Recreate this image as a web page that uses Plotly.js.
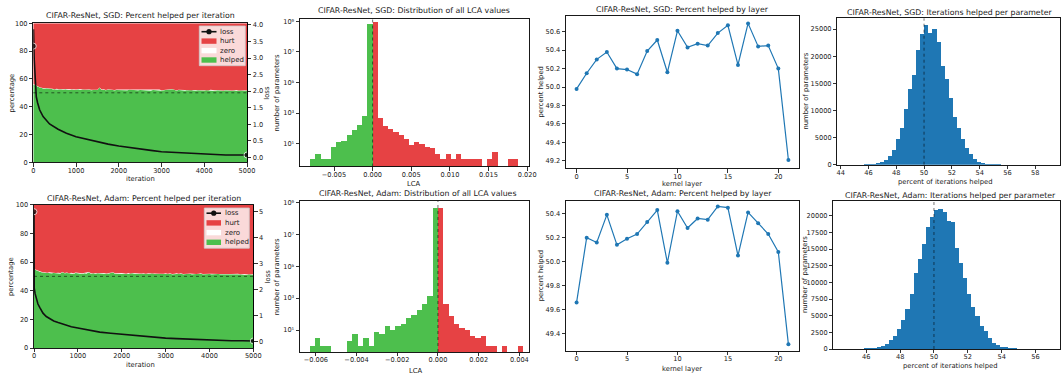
<!DOCTYPE html>
<html>
<head>
<meta charset="utf-8">
<script src="https://cdn.plot.ly/plotly-3.0.1.min.js"></script>
<style>
  html, body { margin: 0; padding: 0; background: #ffffff; }
  #chart { width: 1063px; height: 377px; }
</style>
</head>
<body>
<div id="chart"></div>
<script>
// ---------- data ----------
// percent of parameters helped / zero per iteration (sampled every 50 iterations)
const iterStep = 50;
const sgdHelped = [
  56.0,55.2,54.3,53.8,53.4,53.0,53.2,52.8,52.9,52.6,
  52.4,52.7,52.3,52.5,52.2,52.6,52.3,52.1,52.4,52.2,
  52.0,52.5,52.1,52.3,52.0,52.2,52.4,51.9,52.1,52.3,
  52.0,53.6,52.1,52.2,51.9,52.3,52.0,52.2,51.8,52.1,
  52.0,52.3,51.9,52.1,51.8,52.2,52.0,51.9,52.1,51.8,
  52.0,51.9,52.2,51.8,52.0,51.7,52.1,51.9,51.8,52.0,
  51.7,51.9,52.0,51.8,52.4,52.6,51.9,51.7,52.0,51.8,
  51.9,51.7,52.0,51.8,51.6,51.9,51.7,51.8,51.6,51.9,
  51.7,51.8,51.6,51.9,51.7,51.5,51.8,51.6,51.7,51.5,
  51.8,51.6,51.7,51.5,51.6,51.8,51.5,51.6,51.4,51.6,
  51.5
];
const sgdZero = [
  0.4,0.3,0.3,0.2,0.3,0.2,0.3,0.3,0.2,0.3,
  0.2,0.3,0.2,0.3,0.3,0.2,0.3,0.2,0.2,0.3,
  0.3,0.2,0.3,0.2,0.3,0.2,0.2,0.3,0.2,0.3,
  0.2,0.3,0.2,0.3,0.2,0.2,0.3,0.2,0.3,0.2,
  0.3,0.2,0.2,0.3,0.2,0.3,0.2,0.3,0.2,0.2,
  0.3,0.2,0.3,0.2,0.2,0.3,0.2,0.3,0.2,0.3,
  0.2,0.2,0.3,0.2,0.3,0.2,0.3,0.2,0.2,0.3,
  0.2,0.3,0.2,0.3,0.2,0.2,0.3,0.2,0.3,0.2,
  0.3,0.2,0.2,0.3,0.2,0.3,0.2,0.2,0.3,0.2,
  0.3,0.2,0.3,0.2,0.2,0.3,0.2,0.3,0.2,0.3,
  0.2
];
const adamHelped = [
  54.9,54.2,53.6,53.1,52.7,52.5,52.3,52.6,52.2,52.4,
  52.1,52.3,52.0,52.8,52.1,52.3,52.0,52.2,51.9,52.3,
  52.0,52.1,51.8,52.2,52.0,52.9,51.9,52.1,51.8,52.2,
  52.0,51.9,52.1,51.8,52.0,52.3,52.6,51.9,52.0,51.8,
  52.1,51.9,51.7,52.0,51.8,52.1,51.9,51.7,52.0,51.8,
  51.9,51.7,52.0,51.8,52.2,51.7,51.9,51.6,51.8,51.7,
  51.9,51.6,51.8,51.5,51.7,51.9,51.6,51.8,51.5,51.7,
  51.6,51.8,51.5,51.7,51.4,51.6,51.8,51.5,51.7,51.4,
  51.6,51.5,51.7,51.4,51.6,51.5,51.3,51.6,51.4,51.5,
  51.3,51.6,51.4,51.5,51.3,51.5,51.4,51.2,51.4,51.3,
  51.2
];
const adamZero = [
  0.3,0.3,0.2,0.3,0.2,0.3,0.2,0.2,0.3,0.2,
  0.3,0.2,0.3,0.2,0.2,0.3,0.2,0.3,0.2,0.3,
  0.2,0.2,0.3,0.2,0.3,0.2,0.3,0.2,0.2,0.3,
  0.2,0.3,0.2,0.2,0.3,0.2,0.3,0.2,0.3,0.2,
  0.2,0.3,0.2,0.3,0.2,0.2,0.3,0.2,0.3,0.2,
  0.3,0.2,0.2,0.3,0.2,0.3,0.2,0.3,0.2,0.2,
  0.3,0.2,0.3,0.2,0.2,0.3,0.2,0.3,0.2,0.3,
  0.2,0.2,0.3,0.2,0.3,0.2,0.3,0.2,0.2,0.3,
  0.2,0.3,0.2,0.3,0.2,0.2,0.3,0.2,0.3,0.2,
  0.3,0.2,0.2,0.3,0.2,0.3,0.2,0.3,0.2,0.2,
  0.3
];

// training loss
const sgdLossIter = [0,5,20,40,70,100,150,230,380,580,775,1000,1250,1500,1750,2000,2250,2500,2750,3000,3250,3500,3750,4000,4250,4500,4750,5000];
const sgdLoss     = [3.36,3.87,3.0,2.3,1.83,1.65,1.43,1.23,1.01,0.85,0.73,0.62,0.54,0.46,0.40,0.34,0.29,0.25,0.21,0.17,0.15,0.13,0.11,0.09,0.08,0.07,0.07,0.07];
const adamLossIter = [0,5,25,50,90,130,205,280,360,450,550,650,740,850,1000,1250,1500,1750,2000,2250,2500,2750,3000,3250,3500,3750,4000,4250,4500,4750,5000];
const adamLoss     = [5.0,2.06,1.85,1.68,1.45,1.32,1.10,0.97,0.88,0.80,0.74,0.68,0.63,0.58,0.53,0.44,0.37,0.33,0.29,0.25,0.21,0.17,0.14,0.12,0.10,0.08,0.06,0.05,0.04,0.04,0.03];

// LCA histograms (negative bins = helped, positive bins = hurt)
const lcaSgdMin = -0.00809, lcaSgdBinWidth = 0.000674;
const lcaSgdNegCounts = [1,2,1,1,6,13,15,38,78,166,665,7.0e8];
const lcaSgdPosCounts = [8.6e8,490,150,95,57,34,20,8,12,10,6,5,2,1,2,1,2,1,1,1,1,0,1,3,0,0,1,1];
const lcaAdamMin = -0.0063, lcaAdamBinWidth = 0.0002625;
const lcaAdamNegCounts = [1,3,1,1,0,0,0,2,6,1,3,1,8,6,17,10,18,24,56,84,177,430,1290,4.7e8];
const lcaAdamPosCounts = [4.8e8,450,80,25,14,10,4,3,4,1,1,0,1,0,0,1];

// percent helped per kernel layer
const sgdLayerHelped  = [49.98,50.15,50.30,50.38,50.20,50.19,50.14,50.39,50.51,50.16,50.61,50.43,50.47,50.45,50.585,50.67,50.24,50.69,50.44,50.45,50.20,49.21];
const adamLayerHelped = [49.66,50.20,50.16,50.39,50.14,50.19,50.23,50.33,50.43,49.99,50.42,50.28,50.36,50.35,50.46,50.45,50.05,50.41,50.32,50.23,50.08,49.31];

// histogram of percent of iterations helped, per parameter
const sgdItersMin = 44.49, sgdItersBinWidth = 0.2913;
const sgdItersCounts = [3,5,10,20,40,80,150,250,430,860,1660,2700,4730,6690,10190,13940,16520,21120,24070,25730,
  24200,24930,22530,18170,15780,12340,8720,6820,4730,3010,1970,980,550,300,190,120,80,50,30,20,12,8,5,4,3,2,2,1,1,1];
const adamItersMin = 44.66, adamItersBinWidth = 0.2436;
const adamItersCounts = [10,15,25,40,60,100,150,200,300,450,750,1300,2000,3000,4300,6050,8250,11400,13500,15750,
  18250,19750,20800,21000,20550,19250,19050,15150,12900,10650,8250,6300,4900,3500,2650,1650,900,650,350,250,
  150,100,60,40,25,15,10,6,4,2];

const legendNames = ['loss', 'hurt', 'zero', 'helped'];
const logTickText = ['10¹', '10³', '10⁵', '10⁷', '10⁹'];

// ---------- helpers ----------
const W = 1063, H = 377;
const FONT = 'DejaVu Sans, Verdana, sans-serif';
const GREEN = '#4dbf4d', RED = '#e64244', BLUE = '#1f77b4', TEXT = '#1a1a1a';

const hd = (x0, x1) => [x0 / W, x1 / W];
const vd = (top, bottom) => [1 - bottom / H, 1 - top / H];
const px = x => x / W;
const py = y => 1 - y / H;
const centers = (start, width, n) => Array.from({length: n}, (_, i) => start + (i + 0.5) * width);
const nz = arr => arr.map(v => (v > 0 ? v : null));

const iters = sgdHelped.map((_, i) => i * iterStep);
const sgdHurt = sgdHelped.map((h, i) => 100 - h - sgdZero[i]);
const adamHurt = adamHelped.map((h, i) => 100 - h - adamZero[i]);
const layers = sgdLayerHelped.map((_, i) => i);

function endMarkers(n) { return Array.from({length: n}, (_, i) => (i === 0 || i === n - 1 ? 6 : 0)); }

const baseAxis = {
  showline: true, mirror: true, linecolor: '#000', linewidth: 0.9,
  ticks: 'outside', ticklen: 3.5, tickwidth: 0.8, tickcolor: '#000',
  showgrid: false, zeroline: false, fixedrange: true,
  tickfont: {family: FONT, size: 6.6, color: TEXT}
};
const ax = o => Object.assign({}, baseAxis, o);
const xax = o => Object.assign({}, baseAxis, {ticklabelstandoff: -2}, o);

// ---------- traces ----------
const traces = [];

function stackPanel(xa, ya, ya2, group, helped, zero, hurt, lossIter, loss) {
  traces.push({x: iters, y: helped, stackgroup: group, name: 'helped', mode: 'lines',
    line: {width: 0, color: GREEN}, fillcolor: GREEN, xaxis: xa, yaxis: ya, hoverinfo: 'skip'});
  traces.push({x: iters, y: zero, stackgroup: group, name: 'zero', mode: 'lines',
    line: {width: 0, color: '#ffffff'}, fillcolor: '#ffffff', xaxis: xa, yaxis: ya, hoverinfo: 'skip'});
  traces.push({x: iters, y: hurt, stackgroup: group, name: 'hurt', mode: 'lines',
    line: {width: 0, color: RED}, fillcolor: RED, xaxis: xa, yaxis: ya, hoverinfo: 'skip'});
  traces.push({x: lossIter, y: loss, mode: 'lines+markers', name: 'loss',
    line: {color: '#111', width: 1.6}, marker: {color: '#111', size: endMarkers(loss.length)},
    xaxis: xa, yaxis: ya2, hoverinfo: 'skip'});
}

function lcaPanel(xa, ya, start, width, negCounts, posCounts) {
  const nNeg = negCounts.length;
  traces.push({type: 'bar', x: centers(start, width, nNeg), y: nz(negCounts), width: width,
    marker: {color: GREEN, line: {width: 0}}, xaxis: xa, yaxis: ya, hoverinfo: 'skip'});
  traces.push({type: 'bar', x: centers(start + nNeg * width, width, posCounts.length), y: nz(posCounts), width: width,
    marker: {color: RED, line: {width: 0}}, xaxis: xa, yaxis: ya, hoverinfo: 'skip'});
}

function layerPanel(xa, ya, vals) {
  traces.push({x: layers, y: vals, mode: 'lines+markers', line: {color: BLUE, width: 1.2},
    marker: {color: BLUE, size: 4}, xaxis: xa, yaxis: ya, hoverinfo: 'skip'});
}

function itersPanel(xa, ya, start, width, counts) {
  traces.push({type: 'bar', x: centers(start, width, counts.length), y: counts, width: width,
    marker: {color: BLUE, line: {width: 0}}, xaxis: xa, yaxis: ya, hoverinfo: 'skip'});
}

stackPanel('x', 'y', 'y9', 'sgd', sgdHelped, sgdZero, sgdHurt, sgdLossIter, sgdLoss);
lcaPanel('x2', 'y2', lcaSgdMin, lcaSgdBinWidth, lcaSgdNegCounts, lcaSgdPosCounts);
layerPanel('x3', 'y3', sgdLayerHelped);
itersPanel('x4', 'y4', sgdItersMin, sgdItersBinWidth, sgdItersCounts);
stackPanel('x5', 'y5', 'y10', 'adam', adamHelped, adamZero, adamHurt, adamLossIter, adamLoss);
lcaPanel('x6', 'y6', lcaAdamMin, lcaAdamBinWidth, lcaAdamNegCounts, lcaAdamPosCounts);
layerPanel('x7', 'y7', adamLayerHelped);
itersPanel('x8', 'y8', adamItersMin, adamItersBinWidth, adamItersCounts);

// ---------- axes ----------
const logTicks = {tickvals: [1e1, 1e3, 1e5, 1e7, 1e9], ticktext: logTickText};

const layout = {
  width: W, height: H, margin: {l: 0, r: 0, t: 0, b: 0},
  paper_bgcolor: '#ffffff', plot_bgcolor: '#ffffff',
  barmode: 'overlay', bargap: 0, hovermode: false, showlegend: false,
  font: {family: FONT, color: TEXT},

  xaxis:  xax({domain: hd(33.3, 247), anchor: 'y', range: [0, 5000], tick0: 0, dtick: 1000, tickformat: 'd'}),
  yaxis:  ax({domain: vd(23.3, 162.3), anchor: 'x', range: [0, 100], tick0: 0, dtick: 20}),
  yaxis9: ax({overlaying: 'y', side: 'right', anchor: 'x', mirror: false, range: [-0.15, 4.05], tick0: 0, dtick: 0.5, tickformat: '.1f'}),

  xaxis2: xax({domain: hd(300, 528.7), anchor: 'y2', range: [-0.0094, 0.0202], tick0: 0, dtick: 0.005, tickformat: '.3f'}),
  yaxis2: ax(Object.assign({domain: vd(19, 166.5), anchor: 'x2', type: 'log', range: [-0.5, 9.15]}, logTicks)),

  xaxis3: xax({domain: hd(566, 799), anchor: 'y3', range: [-1.05, 22.05], tick0: 0, dtick: 5}),
  yaxis3: ax({domain: vd(16, 168.3), anchor: 'x3', range: [49.12, 50.77], tick0: 49.2, dtick: 0.2, tickformat: '.1f'}),

  xaxis4: xax({domain: hd(837.3, 1060), anchor: 'y4', range: [43.76, 59.78], tick0: 44, dtick: 2}),
  yaxis4: ax({domain: vd(18.3, 164.7), anchor: 'x4', range: [0, 26985], tick0: 0, dtick: 5000, tickformat: 'd'}),

  xaxis5: xax({domain: hd(34, 253.3), anchor: 'y5', range: [0, 5000], tick0: 0, dtick: 1000, tickformat: 'd'}),
  yaxis5: ax({domain: vd(204.7, 348), anchor: 'x5', range: [0, 100], tick0: 0, dtick: 20}),
  yaxis10: ax({overlaying: 'y5', side: 'right', anchor: 'x5', mirror: false, range: [-0.24, 5.27], tick0: 0, dtick: 1}),

  xaxis6: xax({domain: hd(300, 529.5), anchor: 'y6', range: [-0.00678, 0.0045], tick0: 0, dtick: 0.002, tickformat: '.3f'}),
  yaxis6: ax(Object.assign({domain: vd(201, 352), anchor: 'x6', type: 'log', range: [-0.38, 9.1]}, logTicks)),

  xaxis7: xax({domain: hd(566, 799), anchor: 'y7', range: [-1.05, 22.05], tick0: 0, dtick: 5}),
  yaxis7: ax({domain: vd(200.7, 350.7), anchor: 'x7', range: [49.257, 50.508], tick0: 49.4, dtick: 0.2, tickformat: '.1f'}),

  xaxis8: xax({domain: hd(833.3, 1060), anchor: 'y8', range: [44.05, 57.45], tick0: 46, dtick: 2}),
  yaxis8: ax({domain: vd(201.3, 349), anchor: 'x8', range: [0, 22160], tick0: 0, dtick: 2500, tickformat: 'd'}),

  shapes: [],
  annotations: []
};

// dotted reference lines
const dotLine = {dash: 'dot', color: 'rgba(0,0,0,0.55)', width: 1};
layout.shapes.push({type: 'line', xref: 'x domain', x0: 0, x1: 1, yref: 'y', y0: 50, y1: 50, line: dotLine});
layout.shapes.push({type: 'line', xref: 'x5 domain', x0: 0, x1: 1, yref: 'y5', y0: 50, y1: 50, line: dotLine});
layout.shapes.push({type: 'line', xref: 'x2', x0: 0, x1: 0, yref: 'y2 domain', y0: 0, y1: 1, line: dotLine});
layout.shapes.push({type: 'line', xref: 'x6', x0: 0, x1: 0, yref: 'y6 domain', y0: 0, y1: 1, line: dotLine});
layout.shapes.push({type: 'line', xref: 'x4', x0: 50, x1: 50, yref: 'y4 domain', y0: 0, y1: 1, line: dotLine});
layout.shapes.push({type: 'line', xref: 'x8', x0: 50, x1: 50, yref: 'y8 domain', y0: 0, y1: 1, line: dotLine});

// titles and axis labels (positions in pixels)
function label(text, x, y, size, angle, anchor) {
  layout.annotations.push({text: text, x: px(x), y: py(y), xref: 'paper', yref: 'paper',
    showarrow: false, xanchor: anchor || 'center', yanchor: 'middle', textangle: angle || 0,
    font: {family: FONT, size: size, color: TEXT}});
}

// compact legend box for the stacked panels
function legendBox(left, top, right, bottom, symLeft, symRight, textLeft, rowYs) {
  layout.shapes.push({type: 'rect', xref: 'paper', yref: 'paper',
    x0: px(left), x1: px(right), y0: py(bottom), y1: py(top),
    fillcolor: 'rgba(255,255,255,0.8)', line: {color: '#cccccc', width: 0.8}});
  const fills = [null, RED, '#ffffff', GREEN];
  legendNames.forEach((name, i) => {
    const yc = rowYs[i];
    if (i === 0) {
      layout.shapes.push({type: 'line', xref: 'paper', yref: 'paper',
        x0: px(symLeft), x1: px(symRight), y0: py(yc), y1: py(yc), line: {color: '#111', width: 1.6}});
      const mx = (symLeft + symRight) / 2;
      layout.shapes.push({type: 'circle', xref: 'paper', yref: 'paper',
        x0: px(mx - 2.6), x1: px(mx + 2.6), y0: py(yc + 2.6), y1: py(yc - 2.6),
        fillcolor: '#111', line: {color: '#111', width: 0}});
    } else {
      layout.shapes.push({type: 'rect', xref: 'paper', yref: 'paper',
        x0: px(symLeft), x1: px(symRight), y0: py(yc + 2.7), y1: py(yc - 2.7),
        fillcolor: fills[i], line: {width: 0}});
    }
    label(name, textLeft, yc, 7, 0, 'left');
  });
}
legendBox(199.3, 26, 245.3, 65.7, 201.5, 216.5, 218.3, [31.7, 41.1, 50.6, 60.0]);
legendBox(204.3, 208, 249.3, 248.2, 206.5, 221, 223.2, [213.2, 222.9, 232.6, 242.3]);

const TS = 7.8, LS = 6.8;
label('CIFAR-ResNet, SGD: Percent helped per iteration', 140, 16, TS);
label('CIFAR-ResNet, SGD: Distribution of all LCA values', 414, 11, TS);
label('CIFAR-ResNet, SGD: Percent helped by layer', 682.5, 9.5, TS);
label('CIFAR-ResNet, SGD: Iterations helped per parameter', 949.5, 12.3, TS);
label('CIFAR-ResNet, Adam: Percent helped per iteration', 144, 198.7, TS);
label('CIFAR-ResNet, Adam: Distribution of all LCA values', 417, 193, TS);
label('CIFAR-ResNet, Adam: Percent helped by layer', 683, 193, TS);
label('CIFAR-ResNet, Adam: Iterations helped per parameter', 950.5, 195, TS);

label('iteration', 140, 178.5, LS);
label('LCA', 414, 183.5, LS);
label('kernel layer', 682, 183.5, LS);
label('percent of iterations helped', 945, 182, LS);
label('iteration', 140, 364.5, LS);
label('LCA', 415.7, 371, LS);
label('kernel layer', 682, 368.5, LS);
label('percent of iterations helped', 950, 366, LS);

label('percentage', 11.7, 92.7, LS, -90);
label('loss', 267, 92.7, LS, -90);
label('number of parameters', 276.7, 92.7, LS, -90);
label('percent helped', 540.5, 92, LS, -90);
label('number of parameters', 805, 91.5, LS, -90);
label('percentage', 11.7, 276.3, LS, -90);
label('loss', 268, 276.3, LS, -90);
label('number of parameters', 276.7, 276.5, LS, -90);
label('percent helped', 540.5, 275.7, LS, -90);
label('number of parameters', 805, 275, LS, -90);

Plotly.newPlot('chart', traces, layout, {displayModeBar: false, staticPlot: true});
</script>
</body>
</html>
